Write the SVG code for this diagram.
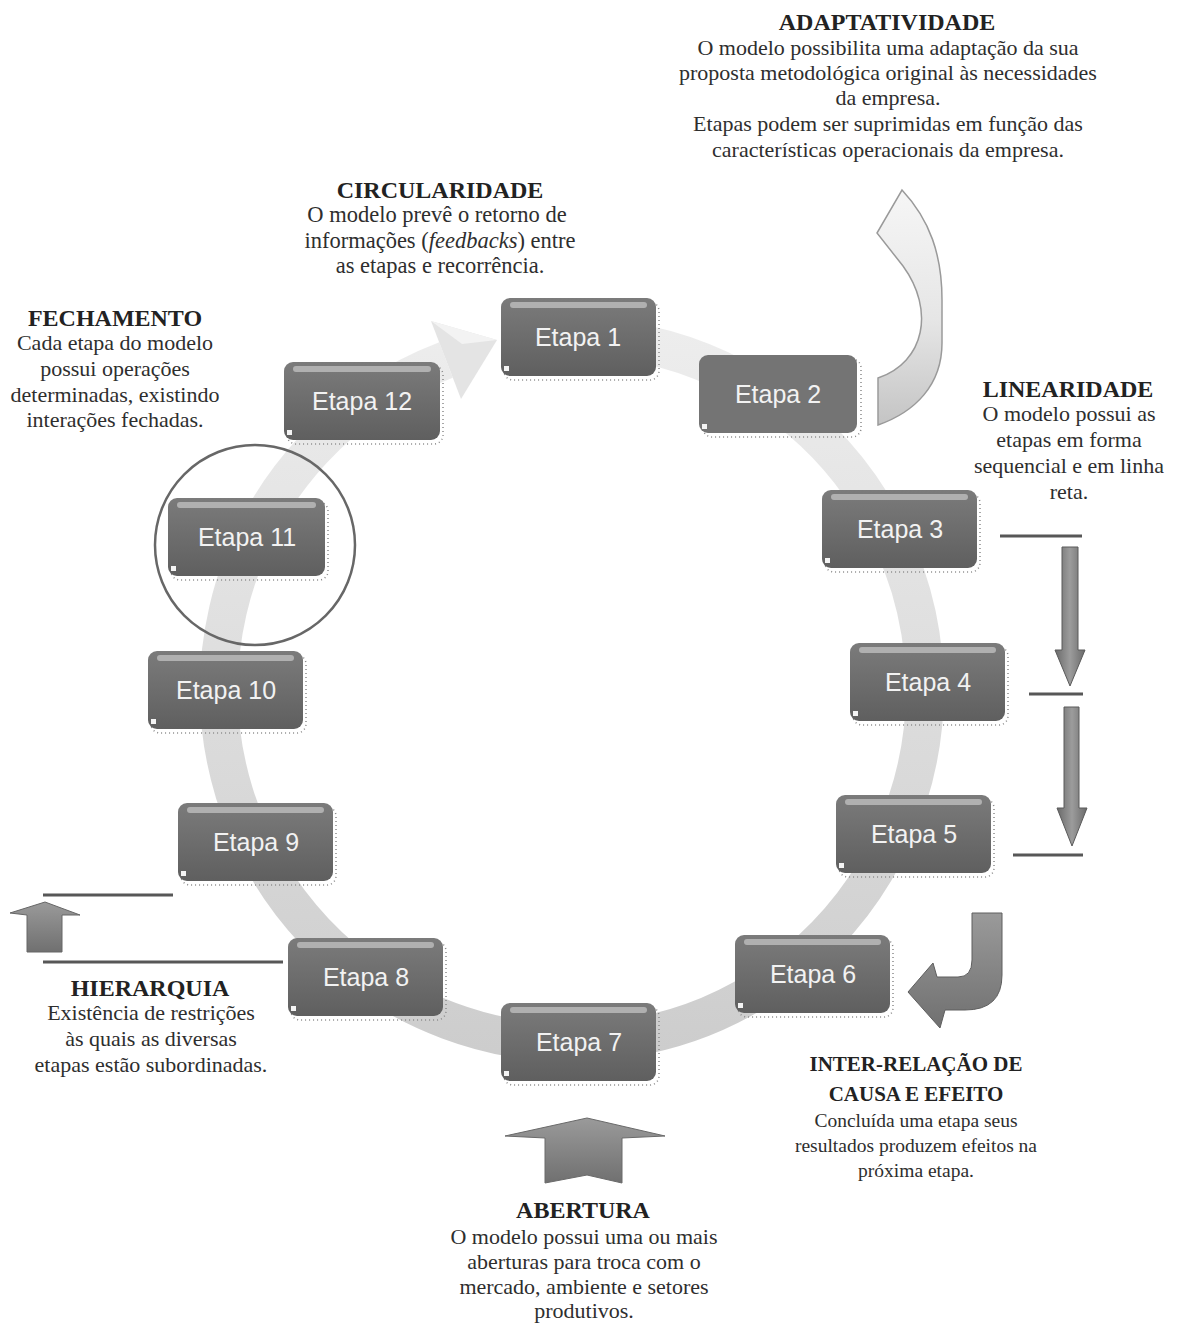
<svg xmlns="http://www.w3.org/2000/svg" width="1177" height="1323" viewBox="0 0 1177 1323">
<defs>
  <linearGradient id="ringg" x1="0" y1="330" x2="0" y2="1050" gradientUnits="userSpaceOnUse">
    <stop offset="0" stop-color="#ededed"/>
    <stop offset="1" stop-color="#cdcdcd"/>
  </linearGradient>
  <linearGradient id="boxg" x1="0" y1="0" x2="0" y2="1">
    <stop offset="0" stop-color="#7b7b7b"/>
    <stop offset="1" stop-color="#5f5f5f"/>
  </linearGradient>
  <linearGradient id="lightarrow" x1="0" y1="0" x2="0" y2="1">
    <stop offset="0" stop-color="#f6f6f6"/>
    <stop offset="0.55" stop-color="#e6e6e6"/>
    <stop offset="1" stop-color="#c4c4c4"/>
  </linearGradient>
  <linearGradient id="darkv" x1="0" y1="0" x2="1" y2="0">
    <stop offset="0" stop-color="#6a6a6a"/>
    <stop offset="0.5" stop-color="#9c9c9c"/>
    <stop offset="1" stop-color="#6a6a6a"/>
  </linearGradient>
  <linearGradient id="darkh" x1="0" y1="0" x2="0" y2="1">
    <stop offset="0" stop-color="#9a9a9a"/>
    <stop offset="1" stop-color="#707070"/>
  </linearGradient>
</defs>
<style>
  .box { fill: url(#boxg); }
  .hl { fill: #b0b0b0; }
  .shadow { fill: none; stroke: #8a8a8a; stroke-width: 1.5; stroke-dasharray: 1 3; }
  .dot { fill: #f4f4f4; }
  .lbl { font-family: "Liberation Sans", Arial, sans-serif; font-size: 25px; fill: #f2f2f2; text-anchor: middle; }
  .t { font-family: "Liberation Serif", "Times New Roman", serif; font-size: 22px; fill: #2e2e2e; text-anchor: middle; }
  .h { font-family: "Liberation Serif", "Times New Roman", serif; font-size: 24px; font-weight: bold; fill: #222; text-anchor: middle; }
  .ts { font-size: 19.5px; }
  .hs { font-size: 21px; }
  .rule { stroke: #575757; stroke-width: 3; }
  .darkarrow { fill: url(#darkv); stroke: #5a5a5a; stroke-width: 1; }
</style>
<rect width="1177" height="1323" fill="#ffffff"/>

<g id="connectors">
  <!-- circular flow ring -->
  <path d="M 584 337 A 353 353 0 1 1 446 360" fill="none" stroke="url(#ringg)" stroke-width="38"/>
  <path d="M 431 321 L 497 340 L 461 399 Z" fill="#e4e4e4"/>
  <path d="M 431 321 L 497 340 L 462 344 Z" fill="#f3f3f3"/>
</g>

<g id="adaptatividade-arrow">
  <path d="M 878 425 L 878 378 C 925 362 935 310 903 266 L 877 233 L 902 190 C 930 220 942 255 942 300 L 942 343 C 942 385 915 412 878 425 Z" fill="url(#lightarrow)" stroke="#9a9a9a" stroke-width="1.5"/>
</g>

<g id="circle-etapa11">
  <circle cx="255" cy="545" r="100" fill="none" stroke="#676767" stroke-width="2.5"/>
</g>

<g id="etapa1">
  <rect class="shadow" x="504" y="302" width="155" height="78" rx="9"/>
  <rect class="box" x="501" y="298" width="155" height="78" rx="9"/>
  <rect class="hl" x="510" y="302" width="137" height="6" rx="3"/>
  <rect class="dot" x="504" y="366" width="5" height="5"/>
  <text class="lbl" x="578" y="346">Etapa 1</text>
</g>
<g id="etapa2">
  <rect class="shadow" x="703" y="359" width="158" height="78" rx="9"/>
  <rect class="box" x="699" y="355" width="158" height="78" rx="9" style="fill:#747474"/>
  <rect class="dot" x="702" y="424" width="5" height="5"/>
  <text class="lbl" x="778" y="403">Etapa 2</text>
</g>
<g id="etapa3">
  <rect class="shadow" x="825" y="494" width="155" height="78" rx="9"/>
  <rect class="box" x="822" y="490" width="155" height="78" rx="9"/>
  <rect class="hl" x="831" y="494" width="137" height="6" rx="3"/>
  <rect class="dot" x="825" y="558" width="5" height="5"/>
  <text class="lbl" x="900" y="538">Etapa 3</text>
</g>
<g id="etapa4">
  <rect class="shadow" x="853" y="647" width="155" height="78" rx="9"/>
  <rect class="box" x="850" y="643" width="155" height="78" rx="9"/>
  <rect class="hl" x="859" y="647" width="137" height="6" rx="3"/>
  <rect class="dot" x="853" y="711" width="5" height="5"/>
  <text class="lbl" x="928" y="691">Etapa 4</text>
</g>
<g id="etapa5">
  <rect class="shadow" x="839" y="799" width="155" height="78" rx="9"/>
  <rect class="box" x="836" y="795" width="155" height="78" rx="9"/>
  <rect class="hl" x="845" y="799" width="137" height="6" rx="3"/>
  <rect class="dot" x="839" y="863" width="5" height="5"/>
  <text class="lbl" x="914" y="843">Etapa 5</text>
</g>
<g id="etapa6">
  <rect class="shadow" x="738" y="939" width="155" height="78" rx="9"/>
  <rect class="box" x="735" y="935" width="155" height="78" rx="9"/>
  <rect class="hl" x="744" y="939" width="137" height="6" rx="3"/>
  <rect class="dot" x="738" y="1003" width="5" height="5"/>
  <text class="lbl" x="813" y="983">Etapa 6</text>
</g>
<g id="etapa7">
  <rect class="shadow" x="504" y="1007" width="155" height="78" rx="9"/>
  <rect class="box" x="501" y="1003" width="155" height="78" rx="9"/>
  <rect class="hl" x="510" y="1007" width="137" height="6" rx="3"/>
  <rect class="dot" x="504" y="1071" width="5" height="5"/>
  <text class="lbl" x="579" y="1051">Etapa 7</text>
</g>
<g id="etapa8">
  <rect class="shadow" x="291" y="942" width="155" height="78" rx="9"/>
  <rect class="box" x="288" y="938" width="155" height="78" rx="9"/>
  <rect class="hl" x="297" y="942" width="137" height="6" rx="3"/>
  <rect class="dot" x="291" y="1006" width="5" height="5"/>
  <text class="lbl" x="366" y="986">Etapa 8</text>
</g>
<g id="etapa9">
  <rect class="shadow" x="181" y="807" width="155" height="78" rx="9"/>
  <rect class="box" x="178" y="803" width="155" height="78" rx="9"/>
  <rect class="hl" x="187" y="807" width="137" height="6" rx="3"/>
  <rect class="dot" x="181" y="871" width="5" height="5"/>
  <text class="lbl" x="256" y="851">Etapa 9</text>
</g>
<g id="etapa10">
  <rect class="shadow" x="151" y="655" width="155" height="78" rx="9"/>
  <rect class="box" x="148" y="651" width="155" height="78" rx="9"/>
  <rect class="hl" x="157" y="655" width="137" height="6" rx="3"/>
  <rect class="dot" x="151" y="719" width="5" height="5"/>
  <text class="lbl" x="226" y="699">Etapa 10</text>
</g>
<g id="etapa11">
  <rect class="shadow" x="171" y="502" width="157" height="78" rx="9"/>
  <rect class="box" x="168" y="498" width="157" height="78" rx="9"/>
  <rect class="hl" x="177" y="502" width="139" height="6" rx="3"/>
  <rect class="dot" x="171" y="566" width="5" height="5"/>
  <text class="lbl" x="247" y="546">Etapa 11</text>
</g>
<g id="etapa12">
  <rect class="shadow" x="287" y="366" width="156" height="78" rx="9"/>
  <rect class="box" x="284" y="362" width="156" height="78" rx="9"/>
  <rect class="hl" x="293" y="366" width="138" height="6" rx="3"/>
  <rect class="dot" x="287" y="430" width="5" height="5"/>
  <text class="lbl" x="362" y="410">Etapa 12</text>
</g>

<g id="linearidade-arrows">
  <line class="rule" x1="1000" y1="536" x2="1082" y2="536"/>
  <line class="rule" x1="1029" y1="694" x2="1083" y2="694"/>
  <line class="rule" x1="1013" y1="855" x2="1083" y2="855"/>
  <path class="darkarrow" d="M1062 547 L1078 547 L1078 650 L1085 650 L1070 686 L1055 650 L1062 650 Z"/>
  <path class="darkarrow" d="M1064 707 L1079 707 L1079 808 L1087 808 L1072 846 L1057 808 L1064 808 Z"/>
</g>

<g id="causa-efeito-arrow">
  <path d="M 972 913 L 1002 913 L 1002 975 Q 1002 1010 965 1010 L 945 1010 L 940 1028 L 908 992 L 933 963 L 937 977 L 958 977 Q 972 977 972 960 Z" fill="url(#darkh)" stroke="#5e5e5e" stroke-width="1"/>
</g>

<g id="abertura-arrow">
  <path d="M587 1118 L665 1136 L622 1138 L622 1183 L587 1175 L545 1183 L545 1138 L505 1136 Z" fill="url(#darkh)" stroke="#6a6a6a" stroke-width="1"/>
</g>

<g id="hierarquia-arrow">
  <line class="rule" x1="43" y1="895" x2="173" y2="895"/>
  <line class="rule" x1="43" y1="962" x2="283" y2="962"/>
  <path d="M45 902 L80 915 L62 915 L62 952 L27 952 L27 915 L10 913 Z" fill="url(#darkh)" stroke="#666" stroke-width="1"/>
</g>

<g id="text-adaptatividade">
  <text class="h" x="887" y="30">ADAPTATIVIDADE</text>
  <text class="t" x="888" y="55">O modelo possibilita uma adaptação da sua</text>
  <text class="t" x="888" y="80">proposta metodológica original às necessidades</text>
  <text class="t" x="888" y="105">da empresa.</text>
  <text class="t" x="888" y="131">Etapas podem ser suprimidas em função das</text>
  <text class="t" x="888" y="157">características operacionais da empresa.</text>
</g>
<g id="text-circularidade">
  <text class="h" x="440" y="198">CIRCULARIDADE</text>
  <text class="t" x="437" y="222" style="font-size:22.5px">O modelo prevê o retorno de</text>
  <text class="t" x="440" y="248" style="font-size:22.5px">informações (<tspan font-style="italic">feedbacks</tspan>) entre</text>
  <text class="t" x="440" y="273" style="font-size:22.5px">as etapas e recorrência.</text>
</g>
<g id="text-fechamento">
  <text class="h" x="115" y="326">FECHAMENTO</text>
  <text class="t" x="115" y="350">Cada etapa do modelo</text>
  <text class="t" x="115" y="376">possui operações</text>
  <text class="t" x="115" y="402">determinadas, existindo</text>
  <text class="t" x="115" y="427">interações fechadas.</text>
</g>
<g id="text-linearidade">
  <text class="h" x="1068" y="397">LINEARIDADE</text>
  <text class="t" x="1069" y="421">O modelo possui as</text>
  <text class="t" x="1069" y="447">etapas em forma</text>
  <text class="t" x="1069" y="473">sequencial e em linha</text>
  <text class="t" x="1069" y="499">reta.</text>
</g>
<g id="text-hierarquia">
  <text class="h" x="150" y="996">HIERARQUIA</text>
  <text class="t" x="151" y="1020">Existência de restrições</text>
  <text class="t" x="151" y="1046">às quais as diversas</text>
  <text class="t" x="151" y="1072">etapas estão subordinadas.</text>
</g>
<g id="text-inter-relacao">
  <text class="h hs" x="916" y="1071">INTER-RELAÇÃO DE</text>
  <text class="h hs" x="916" y="1101">CAUSA E EFEITO</text>
  <text class="t ts" x="916" y="1127">Concluída uma etapa seus</text>
  <text class="t ts" x="916" y="1152">resultados produzem efeitos na</text>
  <text class="t ts" x="916" y="1177">próxima etapa.</text>
</g>
<g id="text-abertura">
  <text class="h" x="583" y="1218">ABERTURA</text>
  <text class="t" x="584" y="1244">O modelo possui uma ou mais</text>
  <text class="t" x="584" y="1269">aberturas para troca com o</text>
  <text class="t" x="584" y="1294">mercado, ambiente e setores</text>
  <text class="t" x="584" y="1318">produtivos.</text>
</g>
</svg>
